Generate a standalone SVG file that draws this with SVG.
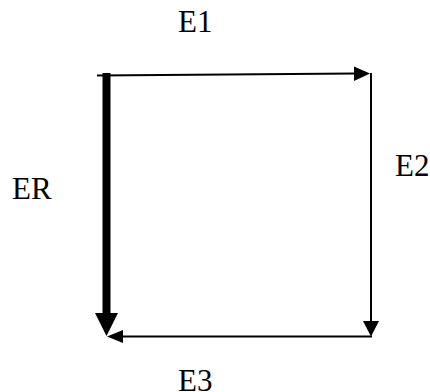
<svg xmlns="http://www.w3.org/2000/svg" width="430" height="392" viewBox="0 0 430 392">
<style>
.lbl{font-family:"Times New Roman","Liberation Serif",serif;font-size:31px;fill:#000}
.thin{stroke:#000;stroke-width:2;fill:none}
.thick{stroke:#000;stroke-width:8;fill:none}
</style>
<rect width="430" height="392" fill="#fff"/>
<g id="connectors">
<g id="E1-edge">
<line class="thin" x1="97" y1="75.5" x2="356" y2="73.5"/>
<polygon points="370,73.5 354,66.5 354,81"/>
</g>
<g id="E2-edge">
<line class="thin" x1="371" y1="73" x2="371" y2="323"/>
<polygon points="371,336.5 363,321 379,321"/>
</g>
<g id="E3-edge">
<line class="thin" x1="372" y1="336.5" x2="120" y2="336.5"/>
<polygon points="107,336.5 123,330 123,343"/>
</g>
<g id="ER-edge">
<line class="thick" x1="106.5" y1="73" x2="106.5" y2="316"/>
<polygon points="106.5,336 95,313 118,313"/>
</g>
</g>
<g id="labels">
<g id="E1"><text class="lbl" x="178" y="32">E1</text></g>
<g id="E2"><text class="lbl" x="395" y="176">E2</text></g>
<g id="E3"><text class="lbl" x="178" y="391">E3</text></g>
<g id="ER"><text class="lbl" x="12" y="199">ER</text></g>
</g>
</svg>
